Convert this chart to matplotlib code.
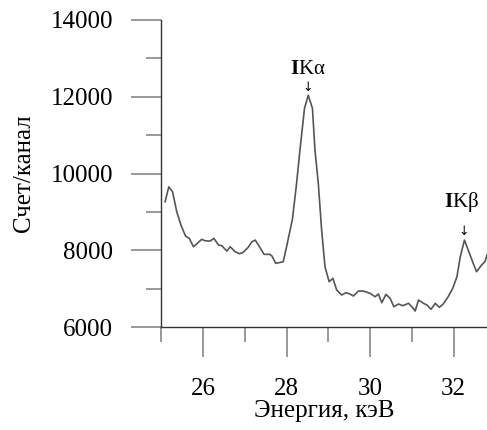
import numpy as np
import matplotlib.pyplot as plt
from matplotlib.ticker import MultipleLocator

plt.rcParams['font.family'] = ['Liberation Serif', 'DejaVu Serif']
plt.rcParams['mathtext.fontset'] = 'custom'
plt.rcParams['mathtext.rm'] = 'Liberation Serif'
plt.rcParams['mathtext.bf'] = 'Liberation Serif:bold'

# энергия, кэВ
energy = [25.09, 25.18, 25.27, 25.37, 25.47, 25.58, 25.67, 25.77, 25.97, 26.05,
          26.17, 26.26, 26.37, 26.45, 26.57, 26.65, 26.77, 26.87, 26.96, 27.08,
          27.17, 27.25, 27.36, 27.46, 27.60, 27.65, 27.74, 27.92, 28.00, 28.14,
          28.24, 28.32, 28.43, 28.52, 28.62, 28.68, 28.76, 28.84, 28.92, 29.02,
          29.11, 29.20, 29.32, 29.42, 29.52, 29.60, 29.72, 29.84, 30.00, 30.12,
          30.20, 30.28, 30.38, 30.48, 30.57, 30.68, 30.78, 30.92, 31.00, 31.08,
          31.16, 31.28, 31.36, 31.46, 31.56, 31.66, 31.75, 31.87, 31.98, 32.08,
          32.16, 32.26, 32.35, 32.47, 32.55, 32.67, 32.75, 32.80]
# счет/канал
counts = [9263, 9653, 9523, 9002, 8656, 8370, 8310, 8091, 8284, 8247,
          8239, 8310, 8135, 8117, 7979, 8091, 7961, 7909, 7945, 8075,
          8221, 8265, 8075, 7893, 7893, 7849, 7659, 7700, 8091, 8805,
          9742, 10609, 11703, 12040, 11695, 10609, 9742, 8526, 7570, 7180,
          7268, 6963, 6833, 6893, 6859, 6807, 6937, 6937, 6878, 6789,
          6859, 6633, 6852, 6747, 6529, 6599, 6555, 6617, 6529, 6417,
          6703, 6617, 6573, 6461, 6617, 6513, 6599, 6789, 7008, 7310,
          7831, 8265, 8005, 7659, 7440, 7614, 7700, 7875]

fig = plt.figure(figsize=(4.87, 4.30), dpi=100)
ax = fig.add_axes([161.3 / 487, 103 / 430, 1 - 161.3 / 487, 307 / 430])

ax.plot(energy, counts, color='#555555', linewidth=1.2)

ax.set_xlim(25, 32.8)
ax.set_ylim(6000, 14000)
ax.xaxis.set_major_locator(MultipleLocator(2))
ax.xaxis.set_minor_locator(MultipleLocator(1))
ax.yaxis.set_major_locator(MultipleLocator(2000))
ax.yaxis.set_minor_locator(MultipleLocator(1000))

for s in ['top', 'right']:
    ax.spines[s].set_visible(False)
for s in ['left', 'bottom']:
    ax.spines[s].set_color('#333333')
    ax.spines[s].set_linewidth(1.0)

ax.tick_params(axis='both', which='major', length=21.6, width=1.2, color='#888888', labelsize=18)
ax.tick_params(axis='both', which='minor', length=10.8, width=1.2, color='#888888')
ax.tick_params(axis='x', which='major', pad=15)
ax.tick_params(axis='y', which='major', pad=13)

ax.set_xlabel('Энергия, кэВ', fontsize=18, labelpad=0)
ax.set_ylabel('Счет/канал', fontsize=18, labelpad=11)

# подписи пиков
ax.text(28.5, 12720, r'$\mathbf{I}$Kα', fontsize=15, ha='center', va='center')
ax.text(28.51, 12230, '↓', fontsize=9, ha='center', va='center', family=['DejaVu Sans'])
ax.text(32.2, 9260, r'$\mathbf{I}$Kβ', fontsize=15, ha='center', va='center')
ax.text(32.23, 8480, '↓', fontsize=9, ha='center', va='center', family=['DejaVu Sans'])

fig.savefig('out.png', dpi=100)
